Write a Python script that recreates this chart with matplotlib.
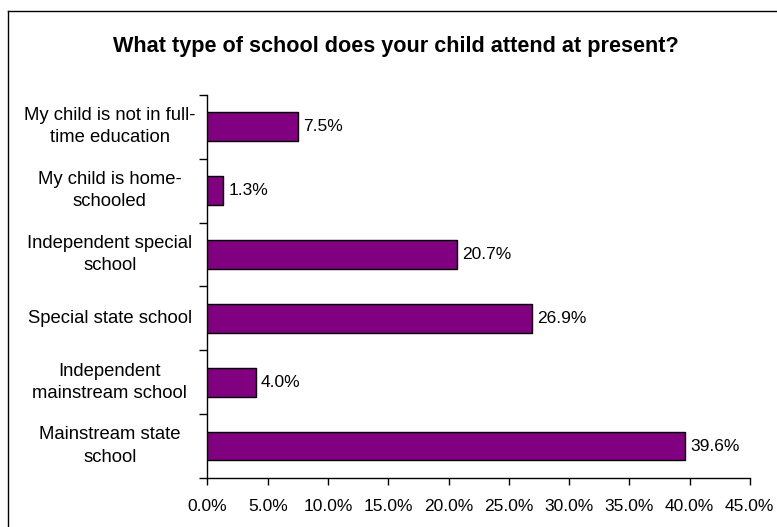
import numpy as np
import matplotlib
matplotlib.use('Agg')
import matplotlib.pyplot as plt
from matplotlib.lines import Line2D

plt.rcParams['font.family'] = ['Liberation Sans', 'DejaVu Sans']

# bottom to top
categories = [
    'Mainstream state\nschool',
    'Independent\nmainstream school',
    'Special state school',
    'Independent special\nschool',
    'My child is home-\nschooled',
    'My child is not in full-\ntime education',
]
values = [39.6, 4.0, 26.9, 20.7, 1.3, 7.5]
xticks = [0, 5, 10, 15, 20, 25, 30, 35, 40, 45]
title = 'What type of school does your child attend at present?'

fig = plt.figure(figsize=(7.77, 5.27), dpi=100)
ax = fig.add_axes([0.267, 0.093, 0.698, 0.727])

y = np.arange(len(categories))
ax.barh(y, values, height=0.45, color='#800080', edgecolor='black', linewidth=1.0, zorder=3)

for yi, v in zip(y, values):
    ax.text(v + 0.45, yi, f'{v:.1f}%', va='center', ha='left', fontsize=12.5, color='black')

ax.set_xlim(0, 45)
ax.set_ylim(-0.5, len(categories) - 0.5)
ax.set_xticks(xticks)
ax.set_xticklabels([f'{t:.1f}%' for t in xticks], fontsize=12.5)
ax.tick_params(axis='x', direction='out', length=5, width=1, pad=10, colors='black')

# category ticks sit between bars
ax.set_yticks(np.arange(len(categories) + 1) - 0.5)
ax.set_yticklabels([])
ax.tick_params(axis='y', direction='out', length=6, width=1, colors='black')

for yi, lab in zip(y, categories):
    ax.text(-0.18, yi, lab, transform=ax.get_yaxis_transform(), ha='center', va='center',
            multialignment='center', fontsize=13.3, linespacing=1.4)

for s in ['top', 'right']:
    ax.spines[s].set_visible(False)
for s in ['left', 'bottom']:
    ax.spines[s].set_color('black')
    ax.spines[s].set_linewidth(1)

fig.text(0.51, 0.912, title, ha='center', va='center', fontsize=15.6, fontweight='bold')

# chart area border (left and top edges visible)
fig.add_artist(Line2D([8 / 777, 8 / 777], [0, 1 - 11 / 527], transform=fig.transFigure, color='black', lw=1))
fig.add_artist(Line2D([8 / 777, 1], [1 - 11 / 527, 1 - 11 / 527], transform=fig.transFigure, color='black', lw=1))

fig.savefig('out.png', dpi=100)
